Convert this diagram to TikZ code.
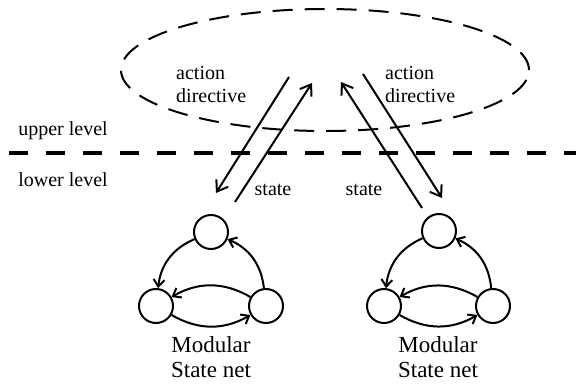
\documentclass[tikz,border=0pt]{standalone}
\usepackage{fontspec}
\setmainfont{Liberation Serif}
\usetikzlibrary{arrows.meta,shapes.geometric}
\begin{document}
\begin{tikzpicture}[x=1pt,y=-1pt,
  lbl/.style={font=\fontsize{20}{23}\selectfont, inner sep=0pt},
  netlbl/.style={font=\fontsize{23}{25}\selectfont, inner sep=0pt, align=center},
  st/.style={circle, draw, line width=2pt, minimum size=34pt, inner sep=0pt},
  bigarrow/.style={line width=2pt, -{Straight Barb[length=10pt,width=14pt,line width=2pt]}},
  netarrow/.style={line width=2pt, -{Straight Barb[length=7pt,width=11pt,line width=2pt]}, bend right=30},
  cloud/.style={ellipse, draw, line width=2pt, dash pattern=on 20pt off 12pt, minimum width=408pt, minimum height=122pt, inner sep=0pt}
]
\useasboundingbox (0,0) rectangle (576,385);

% upper-level ellipse
\node[cloud] (upper) at (325,70) {};

% level separator
\coordinate (sepL) at (9,153);
\coordinate (sepR) at (576,153);
\draw[line width=3.5pt, dash pattern=on 19pt off 18pt] (sepL) -- (sepR);
\node[lbl] (ul) at (63,131) {upper level};
\node[lbl] (ll) at (63,180) {lower level};

% labels
\node[lbl, anchor=west, align=left] (adL) at (176,84) {action\\directive};
\node[lbl, anchor=west, align=left] (adR) at (385,84) {action\\directive};
\node[lbl] (stL) at (273,190) {state};
\node[lbl] (stR) at (364,190) {state};

% left state net
\node[st] (lT) at (211,232) {};
\node[st] (lA) at (156,306) {};
\node[st] (lB) at (266,306) {};
\node[netlbl] (lN) at (211,357) {Modular\\State net};
\draw[netarrow] (lT) to (lA);
\draw[netarrow] (lB) to (lT);
\draw[netarrow] (lB) to (lA);
\draw[netarrow] (lA) to (lB);

% right state net
\node[st] (rT) at (439,231) {};
\node[st] (rA) at (384,306) {};
\node[st] (rB) at (493,306) {};
\node[netlbl] (rN) at (438,357) {Modular\\State net};
\draw[netarrow] (rT) to (rA);
\draw[netarrow] (rB) to (rT);
\draw[netarrow] (rB) to (rA);
\draw[netarrow] (rA) to (rB);

% inter-level arrows
\coordinate (a1s) at (289,77);  \coordinate (a1e) at (216,193);
\coordinate (a2s) at (235,202); \coordinate (a2e) at (312,83);
\coordinate (a3s) at (422,208); \coordinate (a3e) at (341,82);
\coordinate (a4s) at (363,74);  \coordinate (a4e) at (442,198);
\draw[bigarrow] (a1s) -- (a1e);
\draw[bigarrow] (a2s) -- (a2e);
\draw[bigarrow] (a3s) -- (a3e);
\draw[bigarrow] (a4s) -- (a4e);
\end{tikzpicture}
\end{document}
